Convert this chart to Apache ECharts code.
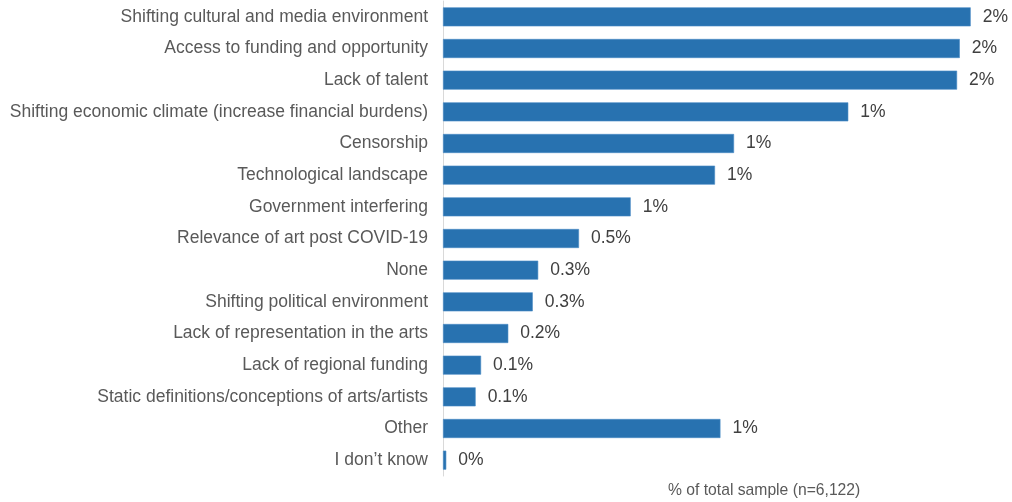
<!DOCTYPE html>
<html>
<head>
<meta charset="utf-8">
<script src="https://cdn.jsdelivr.net/npm/echarts@6/dist/echarts.min.js"></script>
<style>
  html, body { margin: 0; padding: 0; background: #ffffff; }
  #chart { width: 1012px; height: 502px; }
</style>
</head>
<body>
<div id="chart"></div>
<script>
// Challenges named by respondents, share of the total sample (%)
const categories = [
  'Shifting cultural and media environment',
  'Access to funding and opportunity',
  'Lack of talent',
  'Shifting economic climate (increase financial burdens)',
  'Censorship',
  'Technological landscape',
  'Government interfering',
  'Relevance of art post COVID-19',
  'None',
  'Shifting political environment',
  'Lack of representation in the arts',
  'Lack of regional funding',
  'Static definitions/conceptions of arts/artists',
  'Other',
  'I don\u2019t know'
];
const values = [1.94, 1.90, 1.89, 1.49, 1.07, 1.00, 0.69, 0.50, 0.35, 0.33, 0.24, 0.14, 0.12, 1.02, 0.012];
// Rounded labels as published beside each bar
const valueLabels = ['2%', '2%', '2%', '1%', '1%', '1%', '1%', '0.5%', '0.3%', '0.3%', '0.2%', '0.1%', '0.1%', '1%', '0%'];
const axisNote = '% of total sample (n=6,122)';

const FONT = '"Liberation Sans", Arial, sans-serif';
const chart = echarts.init(document.getElementById('chart'), null, { renderer: 'canvas' });
chart.setOption({
  animation: false,
  backgroundColor: '#ffffff',
  textStyle: { fontFamily: FONT },
  grid: { left: 443, right: 25, top: 1, bottom: 26, containLabel: false },
  xAxis: {
    type: 'value',
    min: 0,
    max: 2,
    show: false,
    splitLine: { show: false }
  },
  yAxis: {
    type: 'category',
    data: categories,
    inverse: true,
    axisLine: { show: true, lineStyle: { color: '#d9d9d9', width: 1 } },
    axisTick: { show: false },
    axisLabel: {
      margin: 15,
      fontSize: 17.5,
      color: '#595959',
      fontFamily: FONT
    }
  },
  series: [{
    type: 'bar',
    data: values,
    barWidth: 19,
    itemStyle: { color: '#2872b0', borderColor: '#4a8cc6', borderWidth: 0.6 },
    label: {
      show: true,
      position: 'right',
      distance: 12,
      fontSize: 17.5,
      color: '#404040',
      fontFamily: FONT,
      formatter: p => valueLabels[p.dataIndex]
    }
  }],
  graphic: [{
    type: 'text',
    left: 668,
    top: 483,
    style: {
      text: axisNote,
      fontSize: 15.7,
      fill: '#595959',
      fontFamily: FONT
    }
  }]
});
</script>
</body>
</html>
